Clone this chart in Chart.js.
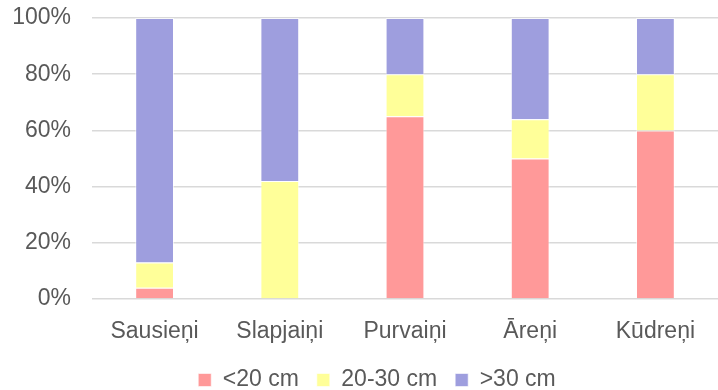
<!DOCTYPE html>
<html>
<head>
<meta charset="utf-8">
<script src="https://cdn.jsdelivr.net/npm/chart.js@4/dist/chart.umd.min.js"></script>
<style>
  html, body { margin: 0; padding: 0; background: #fff; }
  #wrap { width: 718px; height: 390px; }
</style>
</head>
<body>
<div id="wrap"><canvas id="grafico"></canvas></div>
<script>
const kategorijas = ["Sausieņi", "Slapjaiņi", "Purvaiņi", "Āreņi", "Kūdreņi"];
const zem20 = [4, 0, 65, 50, 60];
const no20lidz30 = [9, 42, 15, 14, 20];
const virs30 = [87, 58, 20, 36, 20];
const serijas = ["<20 cm", "20-30 cm", ">30 cm"];
const yTicks = [0, 20, 40, 60, 80, 100];

const krasas = ["#FF9999", "#FFFF99", "#9E9EDE"];
const vertibas = [zem20, no20lidz30, virs30];
const fonts = { family: "Liberation Sans, Arial", size: 23 };

// legendai fiksets augstums un neliela nobide pa labi
const legendaFit = {
    id: "legendaFit",
    afterInit(chart) {
        const orig = chart.legend.fit;
        chart.legend.fit = function () {
            orig.call(this);
            this.height = 39.5;
        };
    },
    afterLayout(chart) {
        chart.legend.left += 15;
        chart.legend.right += 15;
    },
};

const ctx = document.getElementById("grafico").getContext("2d");
new Chart(ctx, {
    type: "bar",
    data: {
        labels: kategorijas,
        datasets: serijas.map((nosaukums, i) => ({
            label: nosaukums,
            data: vertibas[i],
            backgroundColor: krasas[i],
            borderColor: "rgba(255,255,255,0.6)",
            borderWidth: 1,
            barPercentage: 0.31,
            categoryPercentage: 1,
        })),
    },
    plugins: [legendaFit],
    options: {
        responsive: true,
        maintainAspectRatio: false,
        animation: false,
        devicePixelRatio: 1,
        layout: { padding: { top: 18, right: -6, left: 0, bottom: 0 } },
        plugins: {
            legend: {
                position: "bottom",
                labels: {
                    font: fonts,
                    color: "#595959",
                    boxWidth: 13,
                    boxHeight: 13,
                    padding: 18,
                },
            },
            tooltip: { enabled: false },
        },
        scales: {
            x: {
                stacked: true,
                grid: { display: false },
                border: { display: false },
                afterFit: (axis) => { axis.height = 51.5; },
                ticks: {
                    font: fonts,
                    color: "#595959",
                    padding: 11,
                    maxRotation: 0,
                },
            },
            y: {
                stacked: true,
                min: 0,
                max: 100,
                afterBuildTicks: (axis) => { axis.ticks = yTicks.map(v => ({ value: v })); },
                afterFit: (axis) => {
                    axis.width = 92;
                    axis.paddingTop = 0;
                    axis.paddingBottom = 0;
                },
                grid: { color: "#d9d9d9", lineWidth: 1.5, drawTicks: false },
                border: { display: false },
                ticks: {
                    font: fonts,
                    color: "#595959",
                    padding: 21,
                    callback: (v) => v + "%",
                },
            },
        },
    },
});
</script>
</body>
</html>
